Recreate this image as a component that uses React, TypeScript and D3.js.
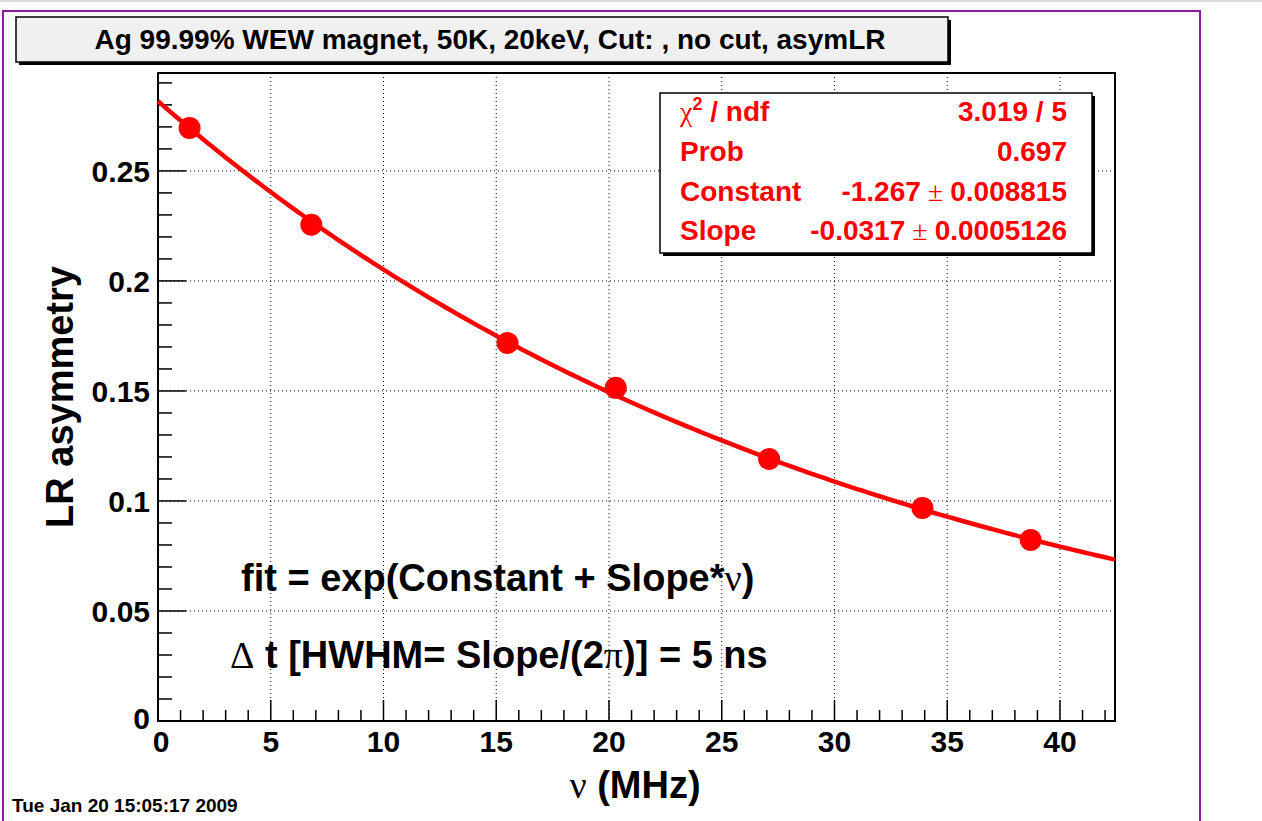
import * as d3 from 'd3';
import * as React from 'react';
import { useEffect } from 'react';

// measured points (nu in MHz, LR asymmetry)
const nuValues = [1.4, 6.8, 15.5, 20.3, 27.1, 33.9, 38.7];
const asymValues = [0.2695, 0.2255, 0.1718, 0.1514, 0.1191, 0.0968, 0.0823];

// fit parameters as printed in the stats box
const fitConstant = -1.267;
const fitSlope = -0.0317;

const xTicks = [0, 5, 10, 15, 20, 25, 30, 35, 40];
const yTicks = [0, 0.05, 0.1, 0.15, 0.2, 0.25];
const yTickLabels = ['0', '0.05', '0.1', '0.15', '0.2', '0.25'];

const statLabels = ['Prob', 'Constant', 'Slope'];
const statValues = ['0.697', '-1.267', '-0.0317'];
const statErrors = ['', '0.008815', '0.0005126'];

const titleText = 'Ag 99.99% WEW magnet, 50K, 20keV, Cut: , no cut, asymLR';
const dateText = 'Tue Jan 20 15:05:17 2009';

const W = 1262;
const H = 821;
const font = '"Liberation Sans", Arial, Helvetica, sans-serif';
const sym = '"Liberation Serif", "DejaVu Serif", serif';
const red = '#ff0000';

export default function App() {
  useEffect(() => {
    document.body.style.margin = '0';
  }, []);

  const frame = { left: 158, right: 1115, top: 73, bottom: 721 };
  const x = d3.scaleLinear().domain([0, 42.44]).range([frame.left, frame.right]);
  const y = d3.scaleLinear().domain([0, 0.2945]).range([frame.bottom, frame.top]);

  const xMinor = d3.range(0, 43, 1).filter((v) => v % 5 !== 0);
  const yMinor = d3.range(1, 30).map((v) => v / 100).filter((_, i) => (i + 1) % 5 !== 0);

  const fitX = d3.range(0, 42.44, 0.2).concat([42.44]);
  const fitLine = d3
    .line<number>()
    .x((v) => x(v))
    .y((v) => y(Math.exp(fitConstant + fitSlope * v)));

  const rowY = [121, 161, 201, 240];

  return (
    <svg width={W} height={H} style={{ display: 'block', background: '#fff' }}>
      <rect x={0} y={0} width={W} height={2} fill="#dcdcdc" />
      {/* canvas border */}
      <rect x={3} y={11} width={1197} height={H} fill="none" stroke="#8b1a9e" strokeWidth={2} />

      {/* grid */}
      <g stroke="#000" strokeWidth={1} strokeDasharray="1,3">
        {xTicks.filter((v) => v > 0).map((v) => (
          <line key={'gx' + v} x1={x(v)} x2={x(v)} y1={frame.top} y2={frame.bottom} />
        ))}
        {yTicks.filter((v) => v > 0).map((v) => (
          <line key={'gy' + v} x1={frame.left} x2={frame.right} y1={y(v)} y2={y(v)} />
        ))}
      </g>

      {/* ticks */}
      <g stroke="#000" strokeWidth={1.5}>
        {xTicks.map((v) => (
          <line key={'tx' + v} x1={x(v)} x2={x(v)} y1={frame.bottom} y2={frame.bottom - 21} />
        ))}
        {xMinor.map((v) => (
          <line key={'mx' + v} x1={x(v)} x2={x(v)} y1={frame.bottom} y2={frame.bottom - 11} />
        ))}
        {yTicks.map((v) => (
          <line key={'ty' + v} x1={frame.left} x2={frame.left + 28} y1={y(v)} y2={y(v)} />
        ))}
        {yMinor.map((v) => (
          <line key={'my' + v} x1={frame.left} x2={frame.left + 14} y1={y(v)} y2={y(v)} />
        ))}
      </g>
      <rect
        x={frame.left}
        y={frame.top}
        width={frame.right - frame.left}
        height={frame.bottom - frame.top}
        fill="none"
        stroke="#000"
        strokeWidth={2}
      />

      {/* tick labels */}
      <g fontFamily={font} fontWeight="bold" fontSize={30} fill="#000">
        {xTicks.map((v) => (
          <text key={'lx' + v} x={x(v) + (v === 0 ? 3 : 0)} y={frame.bottom + 31} textAnchor="middle">
            {v}
          </text>
        ))}
        {yTicks.map((v, i) => (
          <text key={'ly' + v} x={150} y={y(v) + (v === 0 ? 8 : 11)} textAnchor="end">
            {yTickLabels[i]}
          </text>
        ))}
      </g>

      {/* axis titles */}
      <text
        transform="translate(73,397) rotate(-90)"
        textAnchor="middle"
        fontFamily={font}
        fontWeight="bold"
        fontSize={38}
      >
        LR asymmetry
      </text>
      <text x={635} y={798} textAnchor="middle" fontFamily={font} fontWeight="bold" fontSize={38}>
        <tspan fontFamily={sym} fontWeight="normal">ν</tspan> (MHz)
      </text>

      {/* fit curve and points */}
      <path d={fitLine(fitX) ?? ''} fill="none" stroke={red} strokeWidth={4.5} />
      {nuValues.map((v, i) => (
        <circle key={'p' + i} cx={x(v)} cy={y(asymValues[i])} r={11} fill={red} />
      ))}

      {/* annotations */}
      <g fontFamily={font} fontWeight="bold" fontSize={38} fill="#000">
        <text x={241} y={591}>
          fit = exp(Constant + Slope*<tspan fontFamily={sym} fontWeight="normal">ν</tspan>)
        </text>
        <text x={230} y={668}>
          <tspan fontFamily={sym} fontWeight="normal">Δ</tspan> t [HWHM= Slope/(2
          <tspan fontFamily={sym} fontWeight="normal">π</tspan>)] = 5 ns
        </text>
      </g>

      {/* title box */}
      <rect x={19} y={20} width={932} height={45} fill="#000" />
      <rect x={16} y={17} width={932} height={45} fill="#f0f0f0" stroke="#000" strokeWidth={1.5} />
      <text x={490} y={49} textAnchor="middle" fontFamily={font} fontWeight="bold" fontSize={28}>
        {titleText}
      </text>

      {/* stats box */}
      <rect x={663} y={96} width={432} height={160} fill="#000" />
      <rect x={660} y={93} width={432} height={160} fill="#fff" stroke="#000" strokeWidth={1.5} />
      <g fontFamily={font} fontWeight="bold" fontSize={28} fill={red}>
        <text x={680} y={rowY[0]}>
          <tspan fontFamily={sym} fontWeight="normal">χ</tspan>
          <tspan fontSize={18} dy={-11}>2</tspan>
          <tspan dy={11}> / ndf</tspan>
        </text>
        <text x={1067} y={rowY[0]} textAnchor="end">
          3.019 / 5
        </text>
        {statLabels.map((s, i) => (
          <React.Fragment key={s}>
            <text x={680} y={rowY[i + 1]}>
              {s}
            </text>
            <text x={1067} y={rowY[i + 1]} textAnchor="end">
              {statValues[i]}
              {statErrors[i] ? (
                <>
                  <tspan fontFamily={sym} fontWeight="normal"> ± </tspan>
                  {statErrors[i]}
                </>
              ) : null}
            </text>
          </React.Fragment>
        ))}
      </g>

      <text x={12} y={812} fontFamily={font} fontWeight="bold" fontSize={19}>
        {dateText}
      </text>
    </svg>
  );
}
